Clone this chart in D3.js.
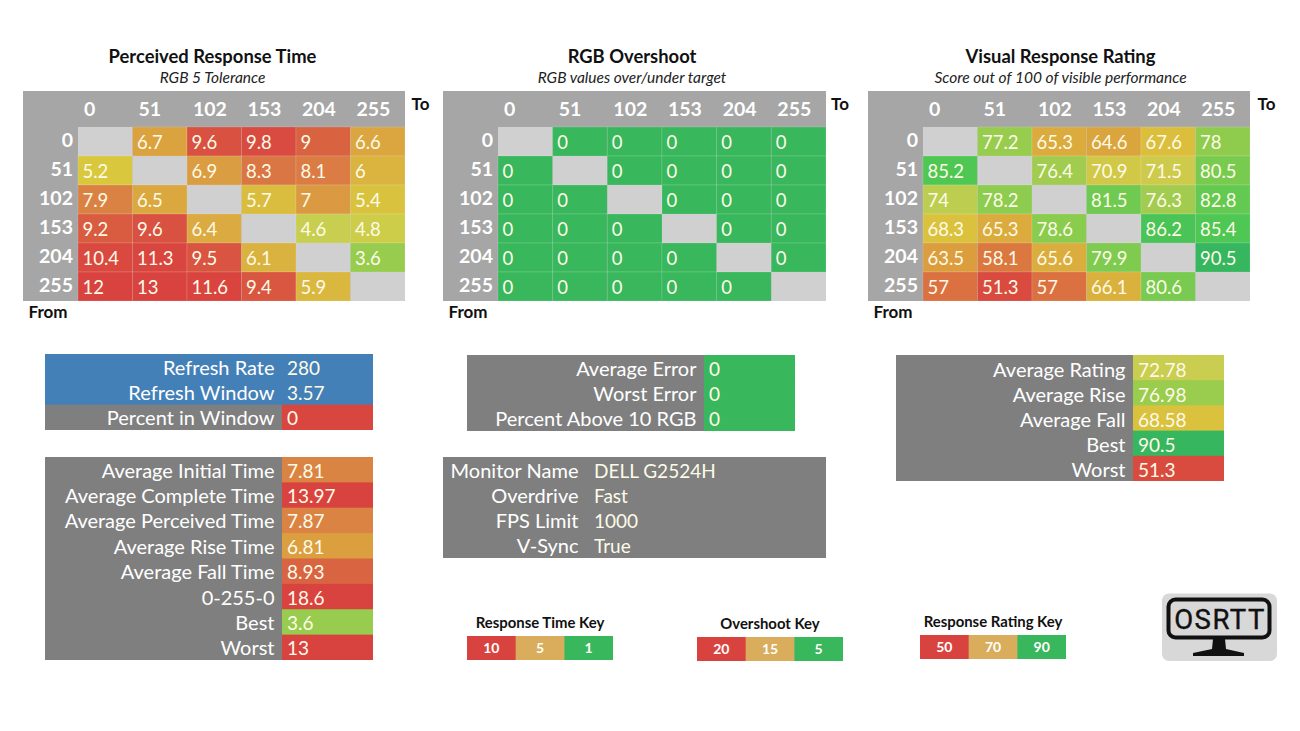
<!DOCTYPE html>
<html><head><meta charset="utf-8">
<script src="https://cdn.jsdelivr.net/npm/d3@7"></script>
<style>
html,body{margin:0;padding:0;background:#fff;overflow:hidden}
text{font-family:Lato,"Open Sans",sans-serif}
</style></head><body>
<svg id="chart" width="1300" height="731" viewBox="0 0 1300 731"></svg>
<script>
const levels = ["0","51","102","153","204","255"];
const perceivedValues = [
 [null,6.7,9.6,9.8,9,6.6],
 [5.2,null,6.9,8.3,8.1,6],
 [7.9,6.5,null,5.7,7,5.4],
 [9.2,9.6,6.4,null,4.6,4.8],
 [10.4,11.3,9.5,6.1,null,3.6],
 [12,13,11.6,9.4,5.9,null]];
const overshootValues = [
 [null,0,0,0,0,0],
 [0,null,0,0,0,0],
 [0,0,null,0,0,0],
 [0,0,0,null,0,0],
 [0,0,0,0,null,0],
 [0,0,0,0,0,null]];
const ratingValues = [
 [null,77.2,65.3,64.6,67.6,78],
 [85.2,null,76.4,70.9,71.5,80.5],
 [74,78.2,null,81.5,76.3,82.8],
 [68.3,65.3,78.6,null,86.2,85.4],
 [63.5,58.1,65.6,79.9,null,90.5],
 [57,51.3,57,66.1,80.6,null]];

const timeStops = [1,3.6,4.6,5.2,6.6,8,9.8,12];
const timeColours = ["#33b65c","#98cc4e","#c8cf50","#d9c83e","#dba540","#da7f43","#d94b40","#d9433f"];
const ratingStops = [50,57,64.6,68,72.8,78,85,90.5];
const ratingColours = ["#d9433f","#db7040","#dba53e","#dcc13d","#c9cd50","#8fcc4e","#50c853","#36b65f"];

const timeColour = d3.scaleLinear().domain(timeStops).range(timeColours).clamp(true);
const ratingColour = d3.scaleLinear().domain(ratingStops).range(ratingColours).clamp(true);

const svg = d3.select("#chart");
const GREY="#a6a6a6", DARK="#7f7f7f", BLUE="#4480b8", EMPTY="#d0d0d0", WHITE="#ffffff";
const LABEL_FS = 20, VALUE_FS = 19, CELL_FS = 18.5, HEAD_FS = 19.5;

function heatmap(cfg){
  const g = svg.append("g");
  const x = d3.scaleBand().domain(levels).range([cfg.x0+55, cfg.x1]);
  const y = d3.scaleBand().domain(levels).range([127,301]);
  g.append("rect").attr("x",cfg.x0).attr("y",91).attr("width",cfg.x1-cfg.x0).attr("height",210).attr("fill",GREY);
  g.append("text").attr("x",cfg.tx).attr("y",63).attr("text-anchor","middle").attr("font-size",18.4).attr("font-weight",700).attr("fill","#111").text(cfg.title);
  g.append("text").attr("x",cfg.tx).attr("y",83).attr("text-anchor","middle").attr("font-size",15.5).attr("font-style","italic").attr("fill","#222").text(cfg.sub);
  levels.forEach(l=>{
    g.append("text").attr("x",x(l)+6).attr("y",116).attr("font-size",HEAD_FS).attr("font-weight",700).attr("fill",WHITE).text(l);
    g.append("text").attr("x",cfg.x0+50).attr("y",y(l)+20).attr("text-anchor","end").attr("font-size",HEAD_FS).attr("font-weight",700).attr("fill",WHITE).text(l);
  });
  cfg.values.forEach((row,r)=>row.forEach((v,c)=>{
    const cx=x(levels[c]), cy=y(levels[r]);
    g.append("rect").attr("x",cx).attr("y",cy).attr("width",x.bandwidth()).attr("height",y.bandwidth())
      .attr("fill",v===null?EMPTY:cfg.colour(v)).attr("stroke",v===null?"none":"rgba(255,255,255,0.14)").attr("stroke-width",1);
    if(v!==null) g.append("text").attr("x",cx+4.5).attr("y",cy+21.5).attr("font-size",CELL_FS).attr("fill","#fdfbe8").text(v);
  }));
  g.append("text").attr("x",cfg.x1+cfg.tdx).attr("y",110).attr("font-size",17).attr("font-weight",700).attr("fill","#111").text("To");
  g.append("text").attr("x",cfg.x0+5.5).attr("y",318).attr("font-size",17).attr("font-weight",700).attr("fill","#111").text("From");
}

const overshootFill = ()=> "#38b75c";
heatmap({x0:23,x1:405,tx:212.5,tdx:6.5,title:"Perceived Response Time",sub:"RGB 5 Tolerance",values:perceivedValues,colour:timeColour});
heatmap({x0:443,x1:826,tx:632,tdx:5,title:"RGB Overshoot",sub:"RGB values over/under target",values:overshootValues,colour:overshootFill});
heatmap({x0:868,x1:1250,tx:1060.5,tdx:7.5,title:"Visual Response Rating",sub:"Score out of 100 of visible performance",values:ratingValues,colour:ratingColour});

function panel(p){
  const g = svg.append("g");
  const y = d3.scaleBand().domain(p.labels).range([p.y0,p.y1]);
  const last = p.labels.length-1, bw = y.bandwidth(), dy = p.dy||8;
  p.labels.forEach((l,i)=>{
    const bg = p.bg&&p.bg[i]?p.bg[i]:DARK;
    const h = bw + (i<last?1:0);
    g.append("rect").attr("x",p.x0).attr("y",y(l)).attr("width",p.split-p.x0+0.5).attr("height",h).attr("fill",bg);
    const fill = p.fills&&p.fills[i]?p.fills[i]:bg;
    g.append("rect").attr("x",p.split).attr("y",y(l)).attr("width",p.x1-p.split).attr("height",h).attr("fill",fill);
  });
  p.labels.forEach((l,i)=>{
    g.append("text").attr("x",p.split-7.5).attr("y",y(l)+bw/2+dy).attr("text-anchor","end").attr("font-size",LABEL_FS).attr("fill",WHITE).text(l);
    g.append("text").attr("x",p.split+(p.vdx||5)).attr("y",y(l)+bw/2+dy).attr("font-size",VALUE_FS).attr("fill","#fdfbe8").text(p.values[i]);
  });
}

const refreshLabels=["Refresh Rate","Refresh Window","Percent in Window"];
const refreshValues=["280","3.57","0"];
const timeLabels=["Average Initial Time","Average Complete Time","Average Perceived Time","Average Rise Time","Average Fall Time","0-255-0","Best","Worst"];
const timeSummary=[7.81,13.97,7.87,6.81,8.93,18.6,3.6,13];
const errorLabels=["Average Error","Worst Error","Percent Above 10 RGB"];
const errorValues=[0,0,0];
const monitorLabels=["Monitor Name","Overdrive","FPS Limit","V-Sync"];
const monitorValues=["DELL G2524H","Fast","1000","True"];
const ratingLabels=["Average Rating","Average Rise","Average Fall","Best","Worst"];
const ratingSummary=[72.78,76.98,68.58,90.5,51.3];

panel({x0:45,x1:373,split:282,y0:354,y1:430,labels:refreshLabels,values:refreshValues,bg:[BLUE,BLUE,DARK],fills:[BLUE,BLUE,"#d9453f"]});
panel({x0:45,x1:373,split:282,y0:457,y1:660,labels:timeLabels,values:timeSummary,fills:timeSummary.map(timeColour)});
panel({x0:467,x1:795,split:704,y0:355,y1:431,labels:errorLabels,values:errorValues,fills:errorValues.map(overshootFill)});
panel({x0:443,x1:826,split:586,y0:457,y1:558,labels:monitorLabels,values:monitorValues,vdx:8});
panel({x0:896,x1:1224,split:1133,y0:355,y1:481,dy:9,labels:ratingLabels,values:ratingSummary,fills:ratingSummary.map(ratingColour)});

const keyColours=["#d9433f","#d9ad5b","#38b75c"];
function keyLegend(k){
  const g=svg.append("g");
  const x=d3.scaleBand().domain(k.ticks).range([k.x0,k.x0+146]);
  g.append("text").attr("x",k.x0+73).attr("y",k.y-8).attr("text-anchor","middle").attr("font-size",14.9).attr("font-weight",700).attr("fill","#111").text(k.title);
  k.ticks.forEach((t,i)=>{
    g.append("rect").attr("x",x(t)).attr("y",k.y).attr("width",x.bandwidth()+(i<2?0.5:0)).attr("height",24).attr("fill",keyColours[i]);
    g.append("text").attr("x",x(t)+x.bandwidth()/2).attr("y",k.y+17).attr("text-anchor","middle").attr("font-size",14).attr("font-weight",700).attr("fill","#fff").text(t);
  });
}
const responseKeyTicks=["10","5","1"], overshootKeyTicks=["20","15","5"], ratingKeyTicks=["50","70","90"];
keyLegend({x0:467,y:636,title:"Response Time Key",ticks:responseKeyTicks});
keyLegend({x0:697,y:637,title:"Overshoot Key",ticks:overshootKeyTicks});
keyLegend({x0:920,y:635,title:"Response Rating Key",ticks:ratingKeyTicks});

const logo=svg.append("g");
logo.append("rect").attr("x",1162).attr("y",593.5).attr("width",115).attr("height",67.5).attr("rx",7).attr("fill","#d8d8d8");
logo.append("rect").attr("x",1168.5).attr("y",599.5).attr("width",101).attr("height",38).attr("rx",7).attr("fill","none").attr("stroke","#111").attr("stroke-width",4);
logo.append("text").attr("x",1220).attr("y",628.5).attr("text-anchor","middle").attr("font-size",27.5).attr("letter-spacing",1.5).style("font-family","Roboto").attr("fill","#111").attr("stroke","#111").attr("stroke-width",0.4).text("OSRTT");
logo.append("path").attr("d","M1213 639h12l1 10 18 4 v3h-51v-3l19-4z").attr("fill","#111");
</script>
</body></html>
